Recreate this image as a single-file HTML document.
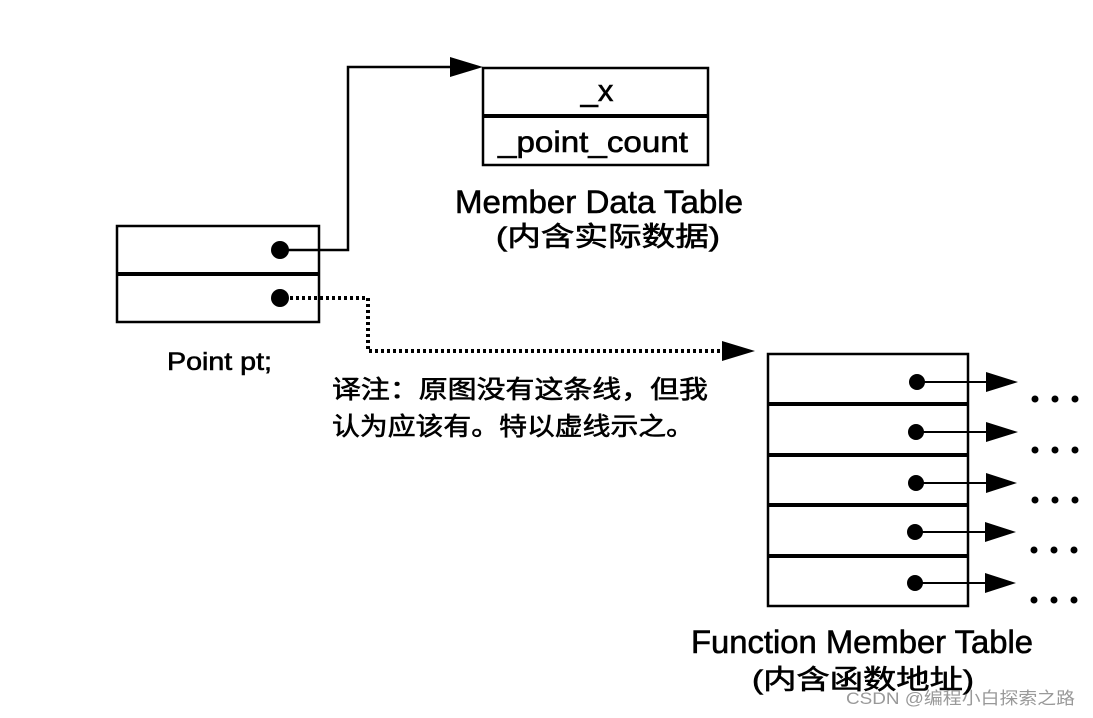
<!DOCTYPE html>
<html><head><meta charset="utf-8"><style>
html,body{margin:0;padding:0;background:#fff;width:1093px;height:718px;overflow:hidden}
svg{display:block}
text{font-family:"Liberation Sans","Noto Sans CJK SC",sans-serif;fill:#000;stroke:#000;stroke-width:0.6}
</style></head><body>
<svg width="1093" height="718" viewBox="0 0 1093 718" xmlns="http://www.w3.org/2000/svg">
<g fill="none" stroke="#000">
<rect x="117" y="226" width="202" height="96" stroke-width="2.5"/>
<line x1="117" y1="274" x2="319" y2="274" stroke-width="4"/>
<rect x="483" y="68" width="225" height="97" stroke-width="2.5"/>
<line x1="483" y1="116" x2="708" y2="116" stroke-width="4"/>
<rect x="768" y="354" width="200" height="252" stroke-width="2.5"/>
<line x1="768" y1="404" x2="968" y2="404" stroke-width="4"/>
<line x1="768" y1="455" x2="968" y2="455" stroke-width="4"/>
<line x1="768" y1="505" x2="968" y2="505" stroke-width="4"/>
<line x1="768" y1="556" x2="968" y2="556" stroke-width="4"/>
<polyline points="280,250 348,250 348,67 455,67" stroke-width="2.5"/>
<polyline points="290,298 368,298 368,351 725,351" stroke-width="4" stroke-dasharray="3,3"/>
<line x1="917" y1="382" x2="990" y2="382" stroke-width="2"/>
<line x1="917" y1="432" x2="990" y2="432" stroke-width="2"/>
<line x1="917" y1="483" x2="990" y2="483" stroke-width="2"/>
<line x1="917" y1="532" x2="990" y2="532" stroke-width="2"/>
<line x1="917" y1="583" x2="990" y2="583" stroke-width="2"/>
</g>
<g fill="#000">
<circle cx="280" cy="250" r="9"/>
<circle cx="280" cy="298" r="9"/>
<polygon points="450,57 483,67 450,77"/>
<polygon points="722,341 755,351 722,361"/>
<circle cx="917" cy="382" r="8"/><polygon points="986,372 1018,382 986,392"/>
<circle cx="916" cy="432" r="8"/><polygon points="986,422 1018,432 986,442"/>
<circle cx="916" cy="483" r="8"/><polygon points="986,473 1017,483 986,493"/>
<circle cx="915" cy="532" r="8"/><polygon points="985,522 1016,532 985,542"/>
<circle cx="915" cy="583" r="8"/><polygon points="985,573 1016,583 985,593"/>
<g>
<circle cx="1035" cy="399" r="3.5"/><circle cx="1055" cy="399" r="3.5"/><circle cx="1075" cy="399" r="3.5"/>
<circle cx="1035" cy="450" r="3.5"/><circle cx="1055" cy="450" r="3.5"/><circle cx="1075" cy="450" r="3.5"/>
<circle cx="1035" cy="500" r="3.5"/><circle cx="1055" cy="500" r="3.5"/><circle cx="1075" cy="500" r="3.5"/>
<circle cx="1034" cy="550" r="3.5"/><circle cx="1054" cy="550" r="3.5"/><circle cx="1074" cy="550" r="3.5"/>
<circle cx="1034" cy="600" r="3.5"/><circle cx="1054" cy="600" r="3.5"/><circle cx="1074" cy="600" r="3.5"/>
</g>
</g>
<text x="597" y="101" font-size="31" text-anchor="middle">_x</text>
<text x="498" y="152" font-size="30" textLength="190" lengthAdjust="spacingAndGlyphs">_point_count</text>
<text x="455" y="213" font-size="32" textLength="288" lengthAdjust="spacingAndGlyphs">Member Data Table</text>
<text x="496" y="246" font-size="27" textLength="224" lengthAdjust="spacingAndGlyphs">(内含实际数据)</text>
<text x="167" y="370" font-size="25" textLength="105" lengthAdjust="spacingAndGlyphs">Point pt;</text>
<text x="332" y="398" font-size="25" textLength="376" lengthAdjust="spacingAndGlyphs">译注：原图没有这条线，但我</text>
<text x="332" y="435" font-size="25" textLength="362" lengthAdjust="spacingAndGlyphs">认为应该有。特以虚线示之。</text>
<text x="691" y="653" font-size="32" textLength="342" lengthAdjust="spacingAndGlyphs">Function Member Table</text>
<text x="752" y="689" font-size="27" textLength="222" lengthAdjust="spacingAndGlyphs">(内含函数地址)</text>
<text x="846" y="704" font-size="17" style="fill:#999;stroke:none" textLength="229" lengthAdjust="spacingAndGlyphs">CSDN @编程小白探索之路</text>
</svg>
</body></html>
